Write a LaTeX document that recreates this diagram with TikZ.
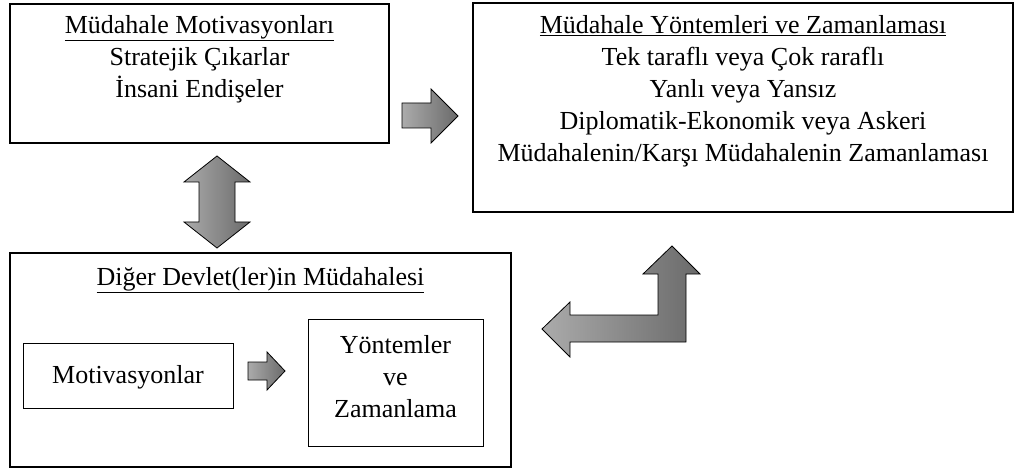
\documentclass[tikz,border=0pt]{standalone}
\usepackage{fontspec}
\setmainfont{Liberation Serif}
\usetikzlibrary{positioning}
\definecolor{arrowlight}{HTML}{ABABAB}
\definecolor{arrowdark}{HTML}{6A6A6A}
\begin{document}
\begin{tikzpicture}[x=1pt,y=-1pt,
   every node/.style={font=\fontsize{26}{32}\selectfont},
   bigbox/.style={draw, line width=1.5pt, inner sep=0pt},
   smallbox/.style={draw, line width=0.9pt, inner sep=0pt},
   label text/.style={align=center, inner sep=0pt, anchor=north},
   blockarrow/.style={draw, line width=0.8pt, line join=miter,
      left color=arrowlight, right color=arrowdark}]
   \useasboundingbox (0,0) rectangle (1016,470);

   % frames
   \node[bigbox, minimum width=379, minimum height=139] (motiv) at (199.5,73.5) {};
   \node[bigbox, minimum width=540, minimum height=209] (method) at (743,107.5) {};
   \node[bigbox, minimum width=501, minimum height=214] (other) at (260.5,360) {};
   \node[smallbox, minimum width=210, minimum height=65] (othermotiv) at (128,375.5) {};
   \node[smallbox, minimum width=175, minimum height=127] (othermethod) at (395.5,382.5) {};

   % texts
   \node[label text] (motivtext) at (199.5,15)
      {\underline{Müdahale Motivasyonları}\\Stratejik Çıkarlar\\İnsani Endişeler};
   \node[label text] (methodtext) at (743,15)
      {\underline{Müdahale Yöntemleri ve Zamanlaması}\\Tek taraflı veya Çok raraflı\\
       Yanlı veya Yansız\\Diplomatik-Ekonomik veya Askeri\\
       Müdahalenin/Karşı Müdahalenin Zamanlaması};
   \node[label text] (othertext) at (260.5,267)
      {\underline{Diğer Devlet(ler)in Müdahalesi}};
   \node[label text] (othermotivtext) at (128,365) {Motivasyonlar};
   \node[label text] (othermethodtext) at (395.5,335) {Yöntemler\\ve\\Zamanlama};

   % arrows
   \draw[blockarrow] (402,103) -- (431,103) -- (431,89) -- (458,116) -- (431,143)
   -- (431,128) -- (402,128) -- cycle;
   \draw[blockarrow] (217,156) -- (250,182) -- (235,182) -- (235,222) -- (250,222)
   -- (217,248) -- (184,222) -- (199,222) -- (199,182) -- (184,182) -- cycle;
   \draw[blockarrow] (248,362) -- (267,362) -- (267,352) -- (285,371) -- (267,390)
   -- (267,380) -- (248,380) -- cycle;
   \draw[blockarrow] (542,329) -- (570,302) -- (570,315) -- (658,315) -- (658,274)
   -- (643,274) -- (672,246) -- (700,274) -- (686,274) -- (686,342) -- (570,342)
   -- (570,357) -- cycle;

\end{tikzpicture}
\end{document}
